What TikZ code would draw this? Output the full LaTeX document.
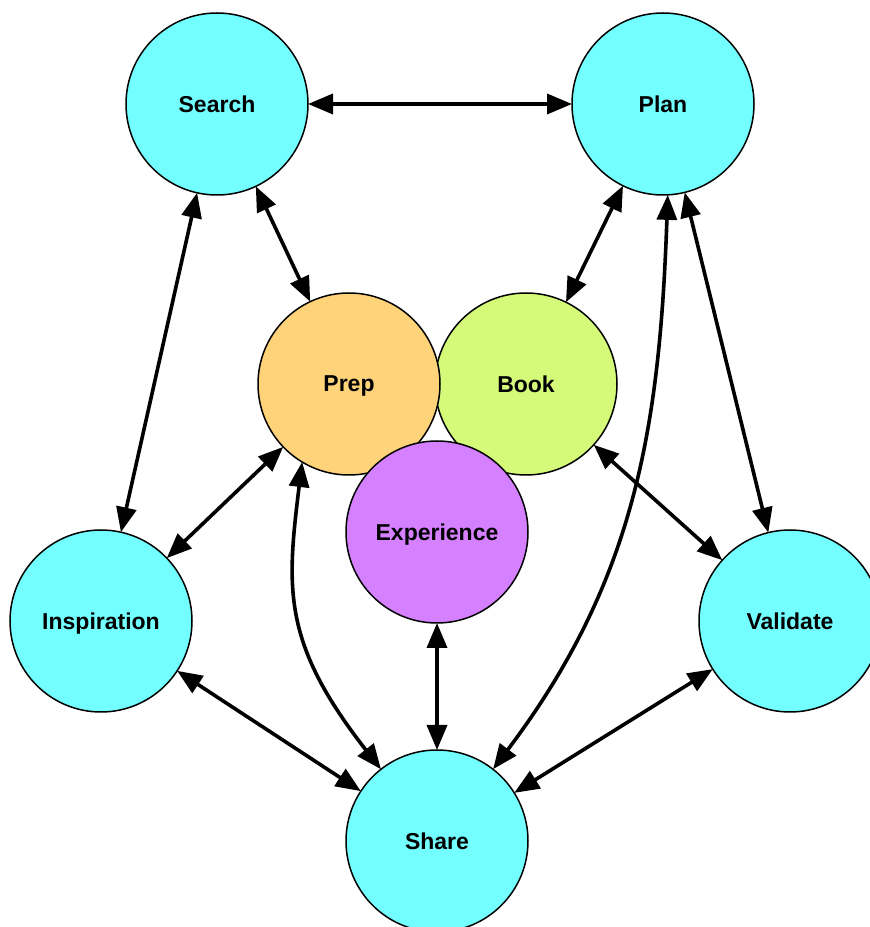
\documentclass[tikz,border=0pt]{standalone}
\usepackage{fontspec}
\setmainfont{Liberation Sans}
\usetikzlibrary{arrows.meta}
\definecolor{stagecyan}{RGB}{115,255,255}
\definecolor{prepfill}{RGB}{255,211,122}
\definecolor{bookfill}{RGB}{213,250,122}
\definecolor{expfill}{RGB}{213,128,255}
\begin{document}
\begin{tikzpicture}[x=1pt,y=1pt,
  stage/.style={circle,draw=black,line width=1.5pt,minimum size=182pt,inner sep=0pt,outer sep=0pt,
    text depth=0pt,font=\fontsize{23}{27}\selectfont\bfseries},
  link/.style={line width=3.6pt,{Triangle[length=25pt,width=20pt]}-{Triangle[length=25pt,width=20pt]}}]
\clip (0,0) rectangle (870,927);
\useasboundingbox (0,0) rectangle (870,927);

% outer ring of stages
\node[stage,fill=stagecyan] (search) at (217,823) {Search};
\node[stage,fill=stagecyan] (plan) at (663,823) {Plan};
\node[stage,fill=stagecyan] (insp) at (101,306) {Inspiration};
\node[stage,fill=stagecyan] (valid) at (790,306) {Validate};
\node[stage,fill=stagecyan] (share) at (437,86) {Share};

% inner cluster (drawn in stacking order)
\node[stage,fill=bookfill] (book) at (526,543) {Book};
\node[stage,fill=prepfill] (prep) at (349,543) {Prep};
\node[stage,fill=expfill] (exp) at (437,395) {Experience};

% connectors
\draw[link] (search) -- (plan);
\draw[link] (search) -- (prep);
\draw[link] (plan) -- (book);
\draw[link] (search) -- (insp);
\draw[link] (plan) -- (valid);
\draw[link] (prep) -- (insp);
\draw[link] (book) -- (valid);
\draw[link] (exp) -- (share);
\draw[link] (insp) -- (share);
\draw[link] (valid) -- (share);
\draw[link] (prep.-121) .. controls +(-97:128) and +(128:161) .. (share.128);
\draw[link] (plan.-87) to[out=-92,in=53] (share.52);
\end{tikzpicture}
\end{document}
